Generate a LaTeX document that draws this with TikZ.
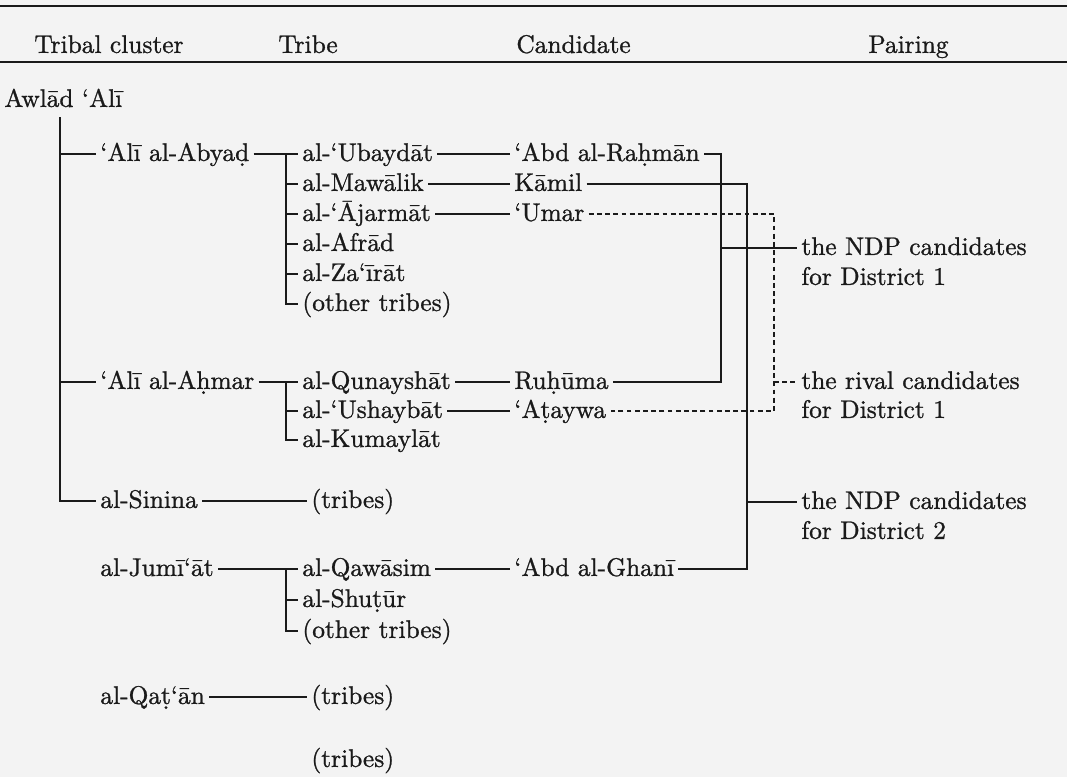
\documentclass[tikz,border=0pt]{standalone}
\usepackage{fontspec}
\setmainfont{lmroman10-regular}[Extension=.otf,FakeBold=1]
\newcommand\udotbelow[1]{\ooalign{#1\cr\hidewidth\raisebox{-0.62ex}{.}\hidewidth\cr}}
\newcommand\myhdot{\iffontchar\font"1E25 ḥ\else\udotbelow{h}\fi}
\newcommand\myddot{\iffontchar\font"1E0D ḍ\else\udotbelow{d}\fi}
\newcommand\mytdot{\iffontchar\font"1E6D ṭ\else\udotbelow{t}\fi}
\definecolor{ink}{HTML}{1A1A1A}
\definecolor{paper}{HTML}{F3F3F3}
\begin{document}
\begin{tikzpicture}[x=0.5pt,y=-0.5pt,
  txt/.style={anchor=west,inner xsep=2pt,inner ysep=0pt,text height=1.6ex,text depth=0pt,
    font=\fontsize{12.7}{14}\selectfont,text=ink},
  con/.style={draw=ink,line width=0.65pt},
  dashcon/.style={con,line width=0.55pt,dash pattern=on 2.4pt off 1.7pt},
  rulestyle/.style={draw=ink,line width=1pt}]
\path[use as bounding box,fill=paper] (0,0) rectangle (1067,777);
% rules
\draw[rulestyle] (0,6) -- (1067,6);
\draw[rulestyle] (0,62) -- (1067,62);
% headers
\node[txt] (hc) at (30,46) {Tribal cluster};
\node[txt] (ht) at (274,46) {Tribe};
\node[txt] (hd) at (512,46) {Candidate};
\node[txt] (hp) at (864,46) {Pairing};
% confederation
\node[txt] (awlad) at (0,100) {Awlād ‘Alī};
\coordinate (vtop) at (60,117);
% clusters
\node[txt] (abyad)  at (96,154) {‘Alī al-Abya\myddot};
\node[txt] (ahmar)  at (96,382) {‘Alī al-A\myhdot mar};
\node[txt] (sinina) at (96,501) {al-Sinina};
\node[txt] (jumiat) at (96,569) {al-Jumī‘āt};
\node[txt] (qatan)  at (96,697) {al-Qa\mytdot‘ān};
% tribes
\node[txt] (ubaydat) at (298,154) {al-‘Ubaydāt};
\node[txt] (mawalik) at (298,184) {al-Mawālik};
\node[txt] (ajarmat) at (298,214) {al-‘Ājarmāt};
\node[txt] (afrad)   at (298,244) {al-Afrād};
\node[txt] (zairat)  at (298,274) {al-Za‘īrāt};
\node[txt] (othera)  at (298,304) {(other tribes)};
\node[txt] (qunay)   at (298,382) {al-Qunayshāt};
\node[txt] (ushay)   at (298,411) {al-‘Ushaybāt};
\node[txt] (kumay)   at (298,440) {al-Kumaylāt};
\node[txt] (tribesa) at (307,501) {(tribes)};
\node[txt] (qawasim) at (298,569) {al-Qawāsim};
\node[txt] (shutur)  at (298,600) {al-Shu\mytdot ūr};
\node[txt] (otherb)  at (298,631) {(other tribes)};
\node[txt] (tribesb) at (307,697) {(tribes)};
\node[txt] (tribesc) at (307,760) {(tribes)};
% candidates
\node[txt] (abdr)   at (510,154) {‘Abd al-Ra\myhdot mān};
\node[txt] (kamil)  at (510,184) {Kāmil};
\node[txt] (umar)   at (510,214) {‘Umar};
\node[txt] (ruhuma) at (510,382) {Ru\myhdot ūma};
\node[txt] (ataywa) at (510,411) {‘A\mytdot aywa};
\node[txt] (abdg)   at (510,569) {‘Abd al-Ghanī};
% pairings
\node[txt] (ndpa)  at (797,248) {the NDP candidates};
\node[txt] (da)    at (797,278) {for District 1};
\node[txt] (rival) at (797,382) {the rival candidates};
\node[txt] (db)    at (797,411) {for District 1};
\node[txt] (ndpb)  at (797,502) {the NDP candidates};
\node[txt] (dc)    at (797,532) {for District 2};
% bracket columns
\coordinate (tb) at (286,0);
\coordinate (pa) at (721,0);
\coordinate (pb) at (747,0);
\coordinate (pc) at (774,0);
% Awlad Ali tree
\draw[con] (vtop) -- (vtop |- sinina.west) -- (sinina.west);
\draw[con] (vtop |- abyad.west) -- (abyad.west);
\draw[con] (vtop |- ahmar.west) -- (ahmar.west);
% clusters to tribes
\draw[con] (abyad.east) -- (ubaydat.west);
\draw[con] (tb |- ubaydat.west) -- (tb |- othera.west) -- (othera.west);
\foreach \n in {mawalik,ajarmat,afrad,zairat} \draw[con] (tb |- \n.west) -- (\n.west);
\draw[con] (ahmar.east) -- (qunay.west);
\draw[con] (tb |- qunay.west) -- (tb |- kumay.west) -- (kumay.west);
\draw[con] (tb |- ushay.west) -- (ushay.west);
\draw[con] (sinina.east) -- (tribesa.west);
\draw[con] (jumiat.east) -- (qawasim.west);
\draw[con] (tb |- qawasim.west) -- (tb |- otherb.west) -- (otherb.west);
\draw[con] (tb |- shutur.west) -- (shutur.west);
\draw[con] (qatan.east) -- (tribesb.west);
% tribes to candidates
\draw[con] (ubaydat.east) -- (abdr.west);
\draw[con] (mawalik.east) -- (kamil.west);
\draw[con] (ajarmat.east) -- (umar.west);
\draw[con] (qunay.east) -- (ruhuma.west);
\draw[con] (ushay.east) -- (ataywa.west);
\draw[con] (qawasim.east) -- (abdg.west);
% pairings
\draw[con] (abdr.east) -- (pa |- abdr.east) -- (pa |- ruhuma.east) -- (ruhuma.east);
\draw[con] (pa |- ndpa.west) -- (ndpa.west);
\draw[con] (kamil.east) -- (pb |- kamil.east) -- (pb |- abdg.east) -- (abdg.east);
\draw[con] (pb |- ndpb.west) -- (ndpb.west);
\draw[dashcon] (umar.east) -- (pc |- umar.east) -- (pc |- ataywa.east) -- (ataywa.east);
\draw[dashcon] (pc |- rival.west) -- (rival.west);
\end{tikzpicture}
\end{document}
